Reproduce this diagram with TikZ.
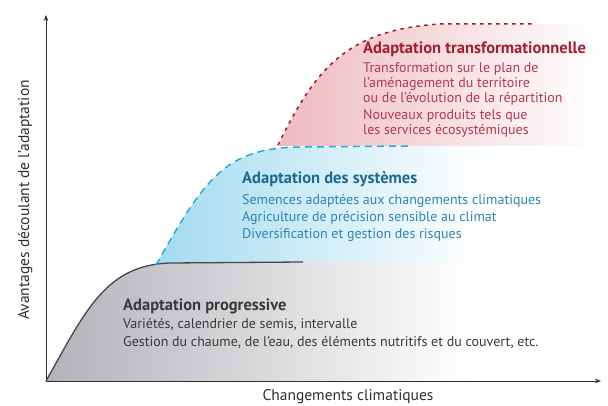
\documentclass[tikz,border=0pt]{standalone}
\usepackage{fontspec}
\setmainfont{PT Sans}
\usetikzlibrary{arrows.meta,positioning}
\definecolor{axisgray}{HTML}{2E2E2E}
\definecolor{progline}{HTML}{454650}
\definecolor{progfill}{HTML}{B2B3B8}
\definecolor{progtext}{HTML}{3A3A3A}
\definecolor{sysline}{HTML}{27ADDB}
\definecolor{sysfill}{HTML}{A2DBEF}
\definecolor{systitle}{HTML}{1D6A90}
\definecolor{systext}{HTML}{2F85AF}
\definecolor{transline}{HTML}{A8182C}
\definecolor{transfill}{HTML}{EDBABF}
\definecolor{transtitle}{HTML}{A31D33}
\definecolor{transtext}{HTML}{B23A4C}
\begin{document}
\begin{tikzpicture}[x=1pt,y=-1pt,
    axis/.style={draw=axisgray, line width=0.9pt, -{Stealth[length=6pt,width=4.5pt]}},
    axislabel/.style={font=\fontsize{15.5}{18}\selectfont, text=axisgray, inner sep=0pt},
    heading/.style={font=\fontsize{16.5}{19}\selectfont\bfseries, inner sep=0pt, anchor=base west},
    bodytext/.style={font=\fontsize{14}{#1}\selectfont, align=left, inner sep=0pt, anchor=base west}]
    \useasboundingbox (0,0) rectangle (608,406);

    % fills under the three curves
    \shade[left color=progfill, right color=white]
        (46,381) .. controls (85,312) and (105,265) .. (170,263) -- (303,262)
        -- (470,262) -- (470,381) -- cycle;
    \shade[left color=sysfill, right color=white]
        (156,265) .. controls (205,178) and (225,148) .. (300,147) -- (408,146)
        -- (480,146) -- (480,262) -- (303,262) -- (170,263) -- cycle;
    \shade[left color=transfill, right color=white]
        (278,146) .. controls (315,70) and (345,30) .. (440,24) -- (533,24)
        -- (600,24) -- (600,146) -- cycle;

    % axes
    \coordinate (origin) at (46,381);
    \coordinate (ytop) at (46,15);
    \coordinate (xend) at (601,381);
    \draw[axis] (origin) -- (ytop);
    \draw[axis] (origin) -- (xend);
    \node[axislabel, anchor=base] (xlabel) at (348,400) {Changements climatiques};
    \node[axislabel, rotate=90, anchor=base] (ylabel) at (29,200) {Avantages découlant de l’adaptation};

    % curves
    \draw[progline, line width=1.3pt]
        (origin) .. controls (85,312) and (105,265) .. (170,263) -- (303,262);
    \draw[sysline, line width=1.5pt, dash pattern=on 7pt off 5pt]
        (156,265) .. controls (205,178) and (225,148) .. (300,147) -- (408,146);
    \draw[transline, line width=1.5pt, dash pattern=on 3.5pt off 4.5pt]
        (278,145) .. controls (315,70) and (345,30) .. (440,24) -- (533,24);

    % labels (body nodes sit on the baseline of their last line)
    \node[heading, text=transtitle] (transhead) at (363,53.3) {Adaptation transformationnelle};
    \node[bodytext=14.8, text=transtext] (transbody) at (363,134.3)
        {Transformation sur le plan de\\l’aménagement du territoire\\ou de l’évolution de la répartition\\[2.5pt]
         Nouveaux produits tels que\\les services écosystémiques};
    \node[heading, text=systitle] (syshead) at (242,183.3) {Adaptation des systèmes};
    \node[bodytext=17.4, text=systext] (sysbody) at (242,239)
        {Semences adaptées aux changements climatiques\\Agriculture de précision sensible au climat\\Diversification et gestion des risques};
    \node[heading, text=progtext] (proghead) at (123,310.7) {Adaptation progressive};
    \node[bodytext=17.7, text=progtext] (progbody) at (123,346)
        {Variétés, calendrier de semis, intervalle\\Gestion du chaume, de l’eau, des éléments nutritifs et du couvert, etc.};
\end{tikzpicture}
\end{document}
